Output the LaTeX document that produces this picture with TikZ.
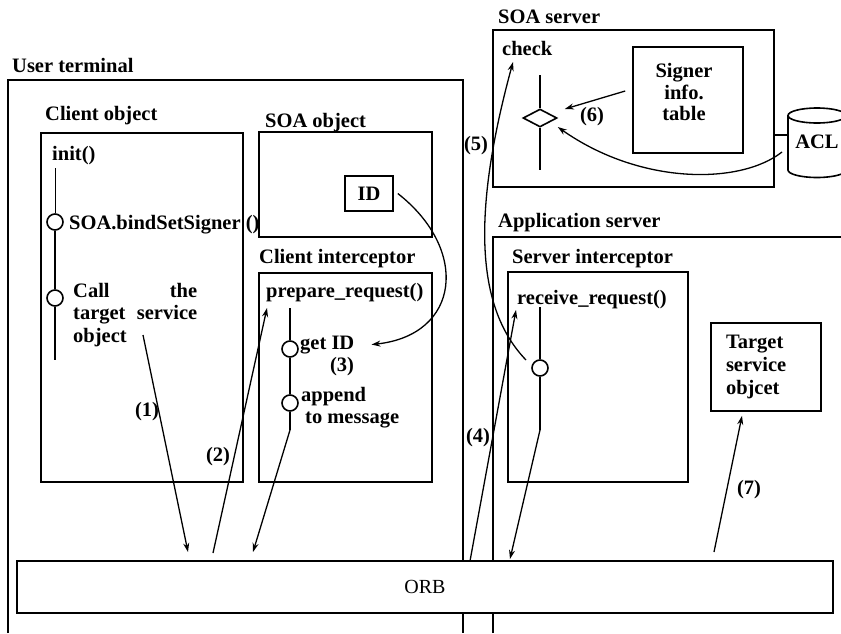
\documentclass[tikz,border=0pt]{standalone}
\usepackage{fontspec}
\setmainfont{Liberation Serif}
\usetikzlibrary{shapes.geometric, arrows.meta, positioning, calc}

\tikzset{
  box/.style={draw, line width=1.6pt, inner sep=0pt},
  lbl/.style={font=\bfseries\fontsize{20.5}{22.5}\selectfont, inner sep=0pt, anchor=base west},
  num/.style={font=\bfseries\fontsize{20.5}{22.5}\selectfont, inner sep=0pt},
  life/.style={line width=1.6pt},
  frame/.style={line width=1.6pt},
  pt/.style={circle, draw, line width=1.6pt, fill=white, minimum size=16pt, inner sep=0pt},
  arr/.style={line width=1.3pt, -{Stealth[length=9pt, width=6pt]}},
}

\begin{document}
\begin{tikzpicture}[x=1pt, y=-1pt]
\useasboundingbox (0,0) rectangle (841,633);
\clip (0,0) rectangle (841,633);

% Open frames: user terminal and application server
\node[lbl] (utlbl) at (12,72) {User terminal};
\draw[frame] (8,633) -- (8,80) -- (463,80) -- (463,633);
\node[lbl] (aslbl) at (498,227) {Application server};
\draw[frame] (493,633) -- (493,237) -- (845,237);

% SOA server
\node[lbl] (sslbl) at (498,23) {SOA server};
\node[box, minimum width=281pt, minimum height=157pt] (soasrv) at (633.5,108.5) {};
\node[lbl] (chk) at (502,55) {check};
\node[box, minimum width=110pt, minimum height=106pt] (sig) at (688,100) {};
\node[num, align=center, font=\bfseries\fontsize{20.5}{21.5}\selectfont] (sigtxt) at (684,92) {Signer\\info.\\table};
\coordinate (dtop) at (540,75);
\coordinate (dbot) at (540,170);
\node[diamond, draw, line width=1.6pt, fill=white, minimum width=34pt, minimum height=18pt, inner sep=0pt] (dia) at (540,118) {};
\draw[life] (dtop) -- (dia.north);
\draw[life] (dia.south) -- (dbot);

% ACL store
\draw[frame] (817,115.5) ellipse [x radius=29, y radius=7.5];
\draw[frame] (788,115.5) -- (788,170) arc[start angle=180, end angle=0, x radius=29, y radius=7.5] -- (846,115.5);
\node[num] (acl) at (817,142) {ACL};
\coordinate (aclw) at (788,135);
\coordinate (aclout) at (782,152);
\draw[frame] (soasrv.east |- aclw) -- (aclw);

% Client object
\node[lbl] (colbl) at (45,120) {Client object};
\node[box, minimum width=202pt, minimum height=349pt] (cobj) at (142,307.5) {};
\node[lbl] (init) at (52,160) {init()};
\coordinate (cotop) at (55,168);
\coordinate (cobot) at (55,360);
\foreach \n/\y in {cp1/222, cp2/298}
  \node[pt] (\n) at (55,\y) {};
\draw[line width=0.8pt] (cotop) -- (cp1.north);
\draw[life] (cp1.south) -- (cp2.north) (cp2.south) -- (cobot);
\node[lbl] (bind) at (69,229) {SOA.bindSetSigner ()};
\node[num, anchor=north west, text width=124pt, align=left] (call) at (73,283) {Call\hfill the\\target\hfill service\\object};

% SOA object
\node[lbl] (solbl) at (265,127) {SOA object};
\node[box, minimum width=173pt, minimum height=105pt] (sobj) at (345.5,184.5) {};
\node[box, font=\bfseries\fontsize{20.5}{22.5}\selectfont, minimum width=48pt, minimum height=35pt] (idb) at (369,193.5) {ID};

% Client interceptor
\node[lbl] (cilbl) at (259,263) {Client interceptor};
\node[box, minimum width=173pt, minimum height=209pt] (cint) at (345.5,377.5) {};
\node[lbl] (prep) at (266,297) {prepare\_request()};
\coordinate (citop) at (290,308);
\coordinate (cibend) at (290,430);
\foreach \n/\y in {ci1/349, ci2/403}
  \node[pt] (\n) at (290,\y) {};
\draw[life] (citop) -- (ci1.north) (ci1.south) -- (ci2.north) (ci2.south) -- (cibend);
\node[lbl] (gid) at (300,349) {get ID};
\node[num] (n3) at (342,367) {(3)};
\node[lbl] (app) at (301,401) {append};
\node[lbl] (tomsg) at (305,423) {to message};

% Server interceptor
\node[lbl] (silbl) at (512,263) {Server interceptor};
\node[box, minimum width=180pt, minimum height=210pt] (sint) at (598,377) {};
\node[lbl] (recv) at (517,304) {receive\_request()};
\coordinate (sitop) at (540,307);
\coordinate (sibend) at (540,430);
\node[pt] (sc) at (540,368) {};
\draw[life] (sitop) -- (sc.north) (sc.south) -- (sibend);

% Target service object
\node[box, font=\bfseries\fontsize{20.5}{23}\selectfont, minimum width=110pt, minimum height=88pt, text width=80pt, align=left] (tso) at (766,367) {Target\\service\\objcet};

% ORB
\node[draw, line width=1.6pt, fill=white, minimum width=816pt, minimum height=52pt, font=\fontsize{20}{22}\selectfont] (orb) at (425,587) {ORB};

% Message flow
\coordinate (a1s) at (143,335);
\coordinate (o1) at (188,552);
\coordinate (o2) at (213,553);
\coordinate (o3) at (253,552);
\coordinate (o5) at (470,561);
\coordinate (o6) at (510,559);
\coordinate (o7) at (714,552);
\draw[arr] (a1s) -- (o1);
\node[num] (n1) at (147,412) {(1)};
\draw[arr] (o2) -- ([shift={(1pt,-11pt)}]prep.base west);
\node[num] (n2) at (218,457) {(2)};
\draw[arr] (cibend) -- (o3);
\draw[arr] ([xshift=4pt]idb.east) .. controls (470,250) and (460,335) .. ([xshift=17pt]gid.east);
\draw[arr] (o5) -- ([shift={(-1pt,-6pt)}]recv.base west);
\node[num] (n4) at (478,438) {(4)};
\draw[arr] ([shift={(-14pt,8pt)}]sc.center) .. controls (478,310) and (470,220) .. ([shift={(11pt,-7pt)}]chk.base west);
\node[num] (n5) at (476,146) {(5)};
\draw[arr] ([shift={(-7pt,9pt)}]sig.west) -- ([shift={(7pt,9pt)}]dia.east);
\node[num] (n6) at (592,117) {(6)};
\draw[arr] (aclout) .. controls (740,185) and (640,185) .. ([yshift=-9pt]dia.east);
\draw[arr] (sibend) -- (o6);
\draw[arr] (o7) -- ([shift={(-24pt,-4pt)}]tso.south);
\node[num] (n7) at (749,490) {(7)};
\end{tikzpicture}
\end{document}
